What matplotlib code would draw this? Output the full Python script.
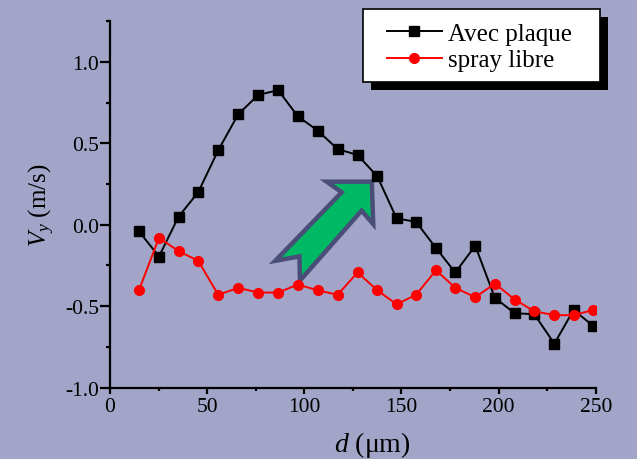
import matplotlib
matplotlib.use("Agg")
import matplotlib.pyplot as plt
from matplotlib.patches import Polygon, Rectangle
from matplotlib.ticker import MultipleLocator, FormatStrFormatter

# ---- data ----
d_um = [14.9, 25.2, 35.3, 45.4, 55.7, 66.0, 76.3, 86.6, 96.6, 106.9, 117.1, 127.4,
        137.6, 147.5, 157.5, 167.8, 177.7, 188.0, 198.1, 208.3, 218.4, 228.7, 238.6, 248.7]
avec_plaque = [-0.04, -0.195, 0.05, 0.20, 0.457, 0.678, 0.797, 0.826, 0.666, 0.578, 0.465, 0.428,
               0.297, 0.039, 0.018, -0.143, -0.293, -0.129, -0.449, -0.543, -0.549, -0.730, -0.523, -0.621]
spray_libre = [-0.402, -0.080, -0.162, -0.221, -0.430, -0.387, -0.416, -0.416, -0.367, -0.402, -0.430, -0.293,
               -0.402, -0.488, -0.430, -0.279, -0.387, -0.445, -0.361, -0.459, -0.531, -0.555, -0.555, -0.523]
labels = ["Avec plaque", "spray libre"]
x_ticks = [0, 50, 100, 150, 200, 250]
y_ticks = [-1.0, -0.5, 0.0, 0.5, 1.0]

BG = "#A2A5C8"
plt.rcParams["font.family"] = ["Liberation Serif", "DejaVu Serif"]
plt.rcParams["mathtext.fontset"] = "custom"
plt.rcParams["mathtext.rm"] = "Liberation Serif"
plt.rcParams["mathtext.it"] = "Liberation Serif:italic"
plt.rcParams["axes.unicode_minus"] = False

fig = plt.figure(figsize=(6.37, 4.60), dpi=100, facecolor=BG)
ax = fig.add_axes([0.1727, 0.155, 0.7625, 0.797])
ax.set_facecolor(BG)

l1, = ax.plot(d_um, avec_plaque, color="black", lw=1.4, marker="s", ms=6.5, zorder=3)
l2, = ax.plot(d_um, spray_libre, color="#FF0000", lw=1.4, marker="o", ms=7, zorder=3)

ax.set_xlim(0, 250)
ax.set_ylim(-1.0, 1.25)
ax.set_xticks(x_ticks)
ax.set_yticks(y_ticks)
ax.xaxis.set_minor_locator(MultipleLocator(25))
ax.yaxis.set_minor_locator(MultipleLocator(0.25))
ax.yaxis.set_major_formatter(FormatStrFormatter("%.1f"))

for s in ["top", "right"]:
    ax.spines[s].set_visible(False)
for s in ["left", "bottom"]:
    ax.spines[s].set_linewidth(1.6)
ax.tick_params(axis="y", which="major", direction="out", length=7, width=1.6, pad=1, labelsize=15.5)
ax.tick_params(axis="y", which="minor", direction="out", length=3, width=1.6)
ax.tick_params(axis="x", which="major", direction="out", length=4, width=1.6, pad=3, labelsize=15.5)
ax.tick_params(axis="x", which="minor", direction="out", length=2, width=1.6)

ax.set_xlabel(r"$d$ (μm)", fontsize=20)
ax.xaxis.set_label_coords(0.539, -0.112)
ax.set_ylabel(r"$V_y$ (m/s)", fontsize=18, labelpad=6)

# green block arrow (decoration) in axes fraction
arrow_pts = [(0.539, 0.562), (0.446, 0.562), (0.477, 0.533), (0.340, 0.346),
             (0.390, 0.358), (0.391, 0.292), (0.518, 0.483), (0.542, 0.446)]
ax.add_patch(Polygon(arrow_pts, closed=True, transform=ax.transAxes, facecolor="#00B964",
                     edgecolor="#4A4D78", lw=3.2, joinstyle="miter", zorder=2, clip_on=False))

# legend frame with shadow
fx0, fx1, fy0, fy1 = 0.520, 1.009, 0.833, 1.033
sx, sy = 0.0165, 0.0218
ax.add_patch(Rectangle((fx0 + sx, fy0 - sy), fx1 - fx0, fy1 - fy0, transform=ax.transAxes,
                       facecolor="black", edgecolor="none", zorder=4.8, clip_on=False))
ax.add_patch(Rectangle((fx0, fy0), fx1 - fx0, fy1 - fy0, transform=ax.transAxes,
                       facecolor="white", edgecolor="black", lw=1.2, zorder=4.9, clip_on=False))
leg = ax.legend([l1, l2], labels, loc="center left", bbox_to_anchor=(0.570, 0.929),
                frameon=False, fontsize=18, borderpad=0, borderaxespad=0,
                handlelength=2.2, handletextpad=0.25, labelspacing=0.15)
leg.set_zorder(5)

fig.savefig("out.png", dpi=100, facecolor=BG)
